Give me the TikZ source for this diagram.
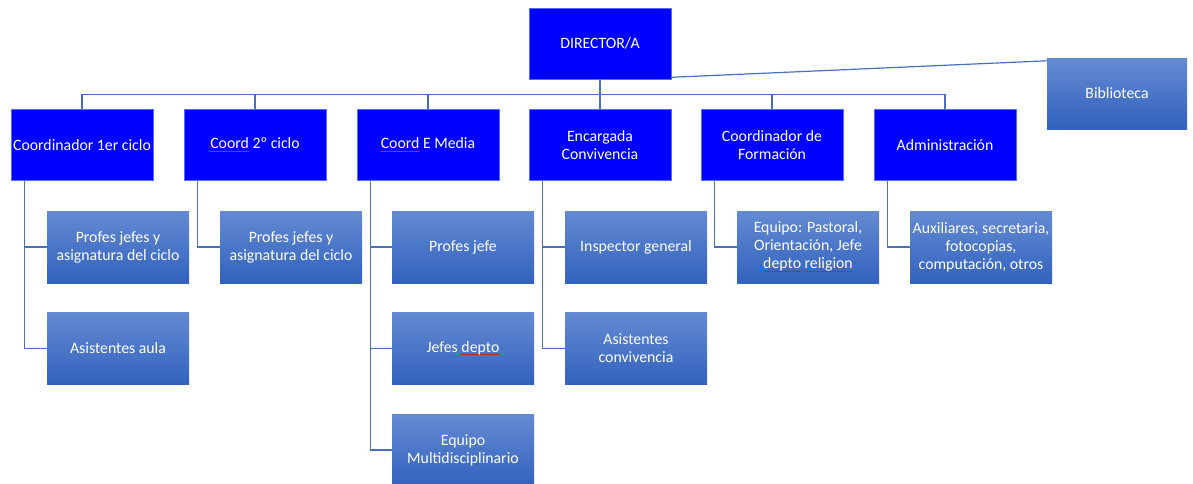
\documentclass[tikz,border=0pt]{standalone}
\usepackage{fontspec}
\setmainfont{Carlito}
\definecolor{bossblue}{RGB}{0,0,255}
\definecolor{bossedge}{RGB}{80,110,255}
\definecolor{stafftop}{RGB}{100,138,210}
\definecolor{staffbot}{RGB}{50,98,190}
\definecolor{linec}{RGB}{72,110,190}
\definecolor{spellred}{RGB}{225,25,25}
\newcommand\spellul[1]{\leavevmode\setbox0\hbox{#1}\rlap{\textcolor{spellred}{\rule[-3pt]{\wd0}{1pt}}}\box0\relax}
\begin{document}
\begin{tikzpicture}[x=1pt,y=-1pt,
  boss/.style={draw=bossedge, line width=0.6pt, fill=bossblue, text=white,
    minimum width=142pt, minimum height=71pt, inner sep=1pt, align=center,
    font=\fontsize{15.8}{18}\selectfont},
  staff/.style={top color=stafftop, bottom color=staffbot, draw=none, text=white,
    minimum width=142pt, minimum height=72pt, inner sep=1pt, align=center,
    font=\fontsize{15.8}{18}\selectfont},
  conn/.style={draw=linec, line width=1.2pt}]
\useasboundingbox (0,0) rectangle (1193,483);
% top
\node[boss] (dir) at (600,43.5) {DIRECTOR/A};
\node[staff, minimum width=140pt, minimum height=71pt] (bib) at (1117,93.5) {Biblioteca};
% level 2
\node[boss] (c1) at (82,145) {Coordinador 1er ciclo};
\node[boss] (c2) at (255,145) {\spellul{Coord} 2º ciclo};
\node[boss] (c3) at (428,145) {\spellul{Coord} E Media};
\node[boss] (c4) at (600,145) {Encargada\\Convivencia};
\node[boss] (c5) at (772,145) {Coordinador de\\Formación};
\node[boss] (c6) at (945,145) {Administración};
% level 3
\node[staff] (k11) at (118,247) {Profes jefes y\\asignatura del ciclo};
\node[staff] (k12) at (118,348.5) {Asistentes aula};
\node[staff] (k21) at (291,247) {Profes jefes y\\asignatura del ciclo};
\node[staff] (k31) at (463,247) {Profes jefe};
\node[staff] (k32) at (463,348.5) {Jefes \spellul{depto}};
\node[staff] (k33) at (463,450) {Equipo\\Multidisciplinario};
\node[staff] (k41) at (636,247) {Inspector general};
\node[staff] (k42) at (636,348.5) {Asistentes\\convivencia};
\node[staff] (k51) at (808,247) {Equipo: Pastoral,\\Orientación, Jefe\\\spellul{depto} \spellul{religion}};
\node[staff] (k61) at (981,247) {Auxiliares, secretaria,\\fotocopias,\\computación, otros};
% connectors
\coordinate (bus) at (0,94.5);
\draw[conn] (dir.south) -- (dir.south |- bus);
\draw[conn] (c1.north) |- (c6.north |- bus) -- (c6.north);
\foreach \c in {c2,c3,c4,c5} \draw[conn] (\c.north) -- (\c.north |- bus);
\draw[conn] ([yshift=2pt]dir.south east) -- ([yshift=-3pt]bib.north west);
\draw[conn] ([xshift=14pt]c1.south west) |- (k11.west);
\draw[conn] ([xshift=14pt]c1.south west) |- (k12.west);
\draw[conn] ([xshift=14pt]c2.south west) |- (k21.west);
\draw[conn] ([xshift=14pt]c3.south west) |- (k31.west);
\draw[conn] ([xshift=14pt]c3.south west) |- (k32.west);
\draw[conn] ([xshift=14pt]c3.south west) |- (k33.west);
\draw[conn] ([xshift=14pt]c4.south west) |- (k41.west);
\draw[conn] ([xshift=14pt]c4.south west) |- (k42.west);
\draw[conn] ([xshift=14pt]c5.south west) |- (k51.west);
\draw[conn] ([xshift=14pt]c6.south west) |- (k61.west);
\end{tikzpicture}
\end{document}
